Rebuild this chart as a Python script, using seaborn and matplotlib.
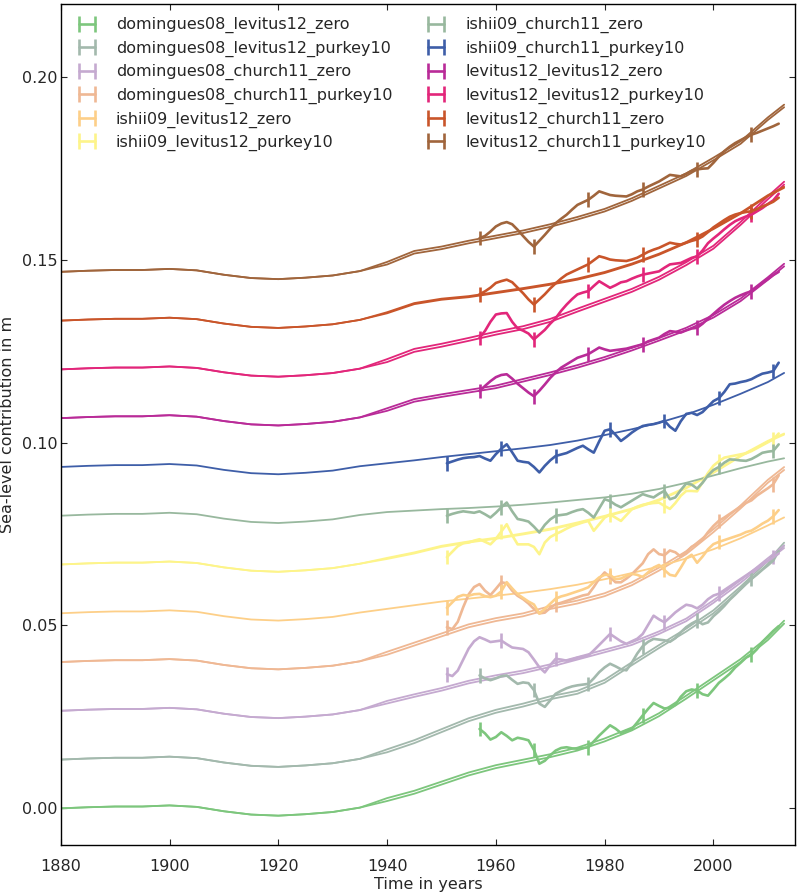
import numpy as np
import pandas as pd
import matplotlib
matplotlib.use("Agg")
import matplotlib.pyplot as plt
import seaborn as sns

sns.set_style("ticks")
plt.rcParams.update({
    'font.family': ['DejaVu Sans'],
    'font.size': 11,
    'xtick.direction': 'in',
    'ytick.direction': 'in',
    'xtick.top': True,
    'ytick.right': True,
    'xtick.major.size': 4,
    'ytick.major.size': 4,
    'xtick.major.pad': 10,
    'ytick.major.pad': 2.5,
    'axes.edgecolor': 'black',
    'axes.linewidth': 1.0,
})

# --- data (values relative to each series' vertical offset) ---
names = [
    'domingues08_levitus12_zero', 'domingues08_levitus12_purkey10',
    'domingues08_church11_zero', 'domingues08_church11_purkey10',
    'ishii09_levitus12_zero', 'ishii09_levitus12_purkey10',
    'ishii09_church11_zero', 'ishii09_church11_purkey10',
    'levitus12_levitus12_zero', 'levitus12_levitus12_purkey10',
    'levitus12_church11_zero', 'levitus12_church11_purkey10',
]
colors = ['#7dc67d', '#a3b9ad', '#c5aad0', '#efb894', '#fdcf88', '#fdf48a',
          '#98b89e', '#3e5ea8', '#b92b98', '#e2267a', '#c9552a', '#a0653c']
offsets = [0.0, 0.01333, 0.02667, 0.04, 0.05333, 0.06667,
           0.08, 0.09333, 0.10667, 0.12, 0.13333, 0.14667]
# spacing between the two model lines of a series (0 = single line)
model_spread = [0.0008, 0.0008, 0.0007, 0.0008, 0.0, 0.0003,
                0.0, 0.0, 0.0007, 0.0008, 0.0003, 0.0007]

early_years = [1880, 1885, 1890, 1895, 1900, 1905, 1910, 1915, 1920, 1925, 1930, 1935]
early_model = [0.0, 0.0003, 0.0005, 0.0005, 0.0008, 0.0004, -0.0008, -0.0017,
               -0.0020, -0.0016, -0.0010, 0.0002]

late_years = [1940, 1945, 1950, 1955, 1960, 1965, 1970, 1975, 1980, 1985, 1990, 1995, 2000, 2005, 2010, 2013]
late_model = [
    [0.0020, 0.0040, 0.0065, 0.0090, 0.0110, 0.0125, 0.0140, 0.0158, 0.0183, 0.0213, 0.0252, 0.0300, 0.0350, 0.0400, 0.0460, 0.0505],
    [0.0020, 0.0045, 0.0075, 0.0105, 0.0128, 0.0145, 0.0165, 0.0180, 0.0210, 0.0258, 0.0305, 0.0350, 0.0400, 0.0465, 0.0535, 0.0585],
    [0.0020, 0.0038, 0.0055, 0.0075, 0.0090, 0.0103, 0.0120, 0.0140, 0.0160, 0.0180, 0.0210, 0.0245, 0.0295, 0.0350, 0.0410, 0.0445],
    [0.0020, 0.0045, 0.0070, 0.0095, 0.0112, 0.0125, 0.0145, 0.0160, 0.0180, 0.0210, 0.0250, 0.0295, 0.0355, 0.0420, 0.0490, 0.0525],
    [0.0012, 0.0022, 0.0032, 0.0040, 0.0048, 0.0056, 0.0066, 0.0078, 0.0093, 0.0110, 0.0128, 0.0150, 0.0175, 0.0205, 0.0240, 0.0262],
    [0.0015, 0.0030, 0.0048, 0.0060, 0.0070, 0.0082, 0.0095, 0.0112, 0.0130, 0.0150, 0.0175, 0.0208, 0.0250, 0.0295, 0.0335, 0.0355],
    [0.0010, 0.0014, 0.0018, 0.0021, 0.0025, 0.0030, 0.0036, 0.0043, 0.0050, 0.0060, 0.0073, 0.0090, 0.0110, 0.0130, 0.0148, 0.0157],
    [0.0010, 0.0018, 0.0027, 0.0035, 0.0043, 0.0051, 0.0060, 0.0072, 0.0087, 0.0103, 0.0121, 0.0143, 0.0170, 0.0200, 0.0232, 0.0257],
    [0.0020, 0.0045, 0.0058, 0.0070, 0.0082, 0.0100, 0.0118, 0.0138, 0.0160, 0.0185, 0.0212, 0.0240, 0.0275, 0.0320, 0.0378, 0.0415],
    [0.0020, 0.0048, 0.0062, 0.0078, 0.0095, 0.0110, 0.0130, 0.0158, 0.0185, 0.0212, 0.0245, 0.0285, 0.0330, 0.0395, 0.0465, 0.0505],
    [0.0020, 0.0045, 0.0057, 0.0064, 0.0075, 0.0086, 0.0098, 0.0112, 0.0130, 0.0153, 0.0180, 0.0212, 0.0250, 0.0292, 0.0340, 0.0363],
    [0.0020, 0.0050, 0.0062, 0.0078, 0.0092, 0.0106, 0.0123, 0.0143, 0.0165, 0.0194, 0.0228, 0.0262, 0.0305, 0.0350, 0.0415, 0.0450],
]

obs_start = [1957, 1957, 1951, 1951, 1951, 1951, 1951, 1951, 1957, 1957, 1957, 1957]
obs_err = [0.002] * 12
obs = [
    # domingues08_levitus12_zero (1957-2012)
    [0.0217, 0.0205, 0.0188, 0.0195, 0.0208, 0.0198, 0.0186, 0.0193, 0.0190, 0.0186,
     0.0160, 0.0122, 0.0130, 0.0145, 0.0158, 0.0165, 0.0167, 0.0164, 0.0163, 0.0165,
     0.0167, 0.0183, 0.0199, 0.0213, 0.0227, 0.0218, 0.0206, 0.0212, 0.0217, 0.0235,
     0.0254, 0.0272, 0.0288, 0.0280, 0.0273, 0.0275, 0.0283, 0.0305, 0.0320, 0.0325,
     0.0322, 0.0312, 0.0308, 0.0325, 0.0343, 0.0355, 0.0368, 0.0385, 0.0398, 0.0412,
     0.0420, 0.0435, 0.0455, 0.0470, 0.0485, 0.0498],
    # domingues08_levitus12_purkey10 (1957-2012)
    [0.0230, 0.0222, 0.0217, 0.0222, 0.0228, 0.0230, 0.0218, 0.0207, 0.0211, 0.0209,
     0.0190, 0.0153, 0.0144, 0.0162, 0.0180, 0.0188, 0.0195, 0.0200, 0.0203, 0.0205,
     0.0207, 0.0222, 0.0239, 0.0252, 0.0262, 0.0255, 0.0247, 0.0244, 0.0265, 0.0290,
     0.0310, 0.0322, 0.0330, 0.0328, 0.0326, 0.0322, 0.0332, 0.0348, 0.0362, 0.0372,
     0.0380, 0.0370, 0.0375, 0.0392, 0.0405, 0.0420, 0.0437, 0.0451, 0.0466, 0.0481,
     0.0494, 0.0506, 0.0519, 0.0531, 0.0544, 0.0570],
    # domingues08_church11_zero (1951-2012)
    [0.0100, 0.0095, 0.0110, 0.0140, 0.0170, 0.0190, 0.0201, 0.0195, 0.0188, 0.0190,
     0.0192, 0.0182, 0.0173, 0.0171, 0.0169, 0.0160, 0.0140, 0.0119, 0.0105, 0.0125,
     0.0142, 0.0140, 0.0137, 0.0140, 0.0145, 0.0148, 0.0151, 0.0165, 0.0180, 0.0195,
     0.0210, 0.0200, 0.0190, 0.0183, 0.0190, 0.0197, 0.0210, 0.0235, 0.0260, 0.0250,
     0.0242, 0.0255, 0.0269, 0.0280, 0.0290, 0.0287, 0.0280, 0.0290, 0.0305, 0.0315,
     0.0320, 0.0330, 0.0340, 0.0350, 0.0360, 0.0370, 0.0380, 0.0390, 0.0400, 0.0410,
     0.0420, 0.0430],
    # domingues08_church11_purkey10 (1951-2012)
    [0.0095, 0.0090, 0.0110, 0.0150, 0.0185, 0.0205, 0.0213, 0.0195, 0.0183, 0.0200,
     0.0218, 0.0215, 0.0195, 0.0181, 0.0172, 0.0160, 0.0145, 0.0133, 0.0135, 0.0148,
     0.0158, 0.0162, 0.0167, 0.0172, 0.0177, 0.0182, 0.0185, 0.0205, 0.0228, 0.0245,
     0.0232, 0.0218, 0.0218, 0.0228, 0.0240, 0.0255, 0.0270, 0.0295, 0.0308, 0.0295,
     0.0292, 0.0305, 0.0300, 0.0288, 0.0300, 0.0315, 0.0323, 0.0335, 0.0355, 0.0372,
     0.0386, 0.0395, 0.0405, 0.0415, 0.0425, 0.0435, 0.0442, 0.0455, 0.0465, 0.0475,
     0.0486, 0.0510],
    # ishii09_levitus12_zero (1951-2012)
    [0.0015, 0.0030, 0.0045, 0.0050, 0.0048, 0.0052, 0.0053, 0.0047, 0.0044, 0.0048,
     0.0060, 0.0085, 0.0068, 0.0052, 0.0042, 0.0032, 0.0024, -0.0001, 0.0012, 0.0026,
     0.0040, 0.0046, 0.0050, 0.0055, 0.0060, 0.0065, 0.0071, 0.0085, 0.0098, 0.0105,
     0.0105, 0.0093, 0.0095, 0.0102, 0.0108, 0.0105, 0.0099, 0.0112, 0.0125, 0.0132,
     0.0118, 0.0105, 0.0102, 0.0125, 0.0150, 0.0160, 0.0138, 0.0155, 0.0175, 0.0189,
     0.0195, 0.0200, 0.0205, 0.0210, 0.0215, 0.0222, 0.0226, 0.0235, 0.0245, 0.0253,
     0.0265, 0.0282],
    # ishii09_levitus12_purkey10 (1951-2012)
    [0.0020, 0.0035, 0.0050, 0.0058, 0.0060, 0.0065, 0.0069, 0.0062, 0.0055, 0.0070,
     0.0090, 0.0110, 0.0080, 0.0055, 0.0055, 0.0055, 0.0048, 0.0028, 0.0060, 0.0075,
     0.0083, 0.0090, 0.0098, 0.0105, 0.0110, 0.0115, 0.0119, 0.0092, 0.0110, 0.0128,
     0.0137, 0.0128, 0.0119, 0.0135, 0.0151, 0.0158, 0.0163, 0.0166, 0.0168, 0.0169,
     0.0160, 0.0152, 0.0168, 0.0188, 0.0201, 0.0201, 0.0200, 0.0225, 0.0250, 0.0270,
     0.0282, 0.0292, 0.0295, 0.0298, 0.0301, 0.0304, 0.0310, 0.0318, 0.0326, 0.0334,
     0.0342, 0.0358],
    # ishii09_church11_zero (1951-2012)
    [0.0000, 0.0005, 0.0009, 0.0012, 0.0010, 0.0008, 0.0012, 0.0004, -0.0005, 0.0008,
     0.0023, 0.0036, 0.0012, -0.0009, -0.0012, -0.0016, -0.0030, -0.0046, -0.0025, -0.0010,
     0.0000, 0.0002, 0.0004, 0.0010, 0.0015, 0.0018, 0.0008, -0.0005, 0.0020, 0.0045,
     0.0040, 0.0030, 0.0023, 0.0032, 0.0041, 0.0050, 0.0059, 0.0054, 0.0050, 0.0060,
     0.0068, 0.0045, 0.0050, 0.0070, 0.0088, 0.0085, 0.0074, 0.0090, 0.0110, 0.0125,
     0.0133, 0.0145, 0.0154, 0.0153, 0.0151, 0.0150, 0.0155, 0.0163, 0.0172, 0.0175,
     0.0177, 0.0195],
    # ishii09_church11_purkey10 (1951-2012)
    [0.0010, 0.0015, 0.0020, 0.0024, 0.0026, 0.0027, 0.0030, 0.0023, 0.0017, 0.0035,
     0.0050, 0.0062, 0.0040, 0.0017, 0.0014, 0.0012, 0.0000, -0.0015, 0.0003, 0.0018,
     0.0030, 0.0034, 0.0038, 0.0045, 0.0052, 0.0058, 0.0048, 0.0039, 0.0070, 0.0099,
     0.0103, 0.0088, 0.0071, 0.0082, 0.0094, 0.0104, 0.0112, 0.0115, 0.0117, 0.0121,
     0.0126, 0.0110, 0.0099, 0.0125, 0.0145, 0.0148, 0.0142, 0.0150, 0.0165, 0.0180,
     0.0188, 0.0205, 0.0226, 0.0228, 0.0232, 0.0235, 0.0240, 0.0248, 0.0255, 0.0258,
     0.0262, 0.0285],
    # levitus12_levitus12_zero (1957-2012)
    [0.0074, 0.0088, 0.0101, 0.0112, 0.0118, 0.0120, 0.0108, 0.0094, 0.0082, 0.0070,
     0.0060, 0.0075, 0.0092, 0.0110, 0.0125, 0.0138, 0.0147, 0.0156, 0.0165, 0.0170,
     0.0175, 0.0184, 0.0193, 0.0188, 0.0184, 0.0186, 0.0188, 0.0190, 0.0194, 0.0198,
     0.0202, 0.0210, 0.0215, 0.0220, 0.0230, 0.0238, 0.0236, 0.0234, 0.0240, 0.0245,
     0.0247, 0.0258, 0.0272, 0.0285, 0.0298, 0.0310, 0.0320, 0.0329, 0.0336, 0.0342,
     0.0347, 0.0358, 0.0370, 0.0380, 0.0391, 0.0400],
    # levitus12_levitus12_purkey10 (1957-2012)
    [0.0086, 0.0105, 0.0130, 0.0150, 0.0153, 0.0154, 0.0130, 0.0112, 0.0106, 0.0098,
     0.0082, 0.0095, 0.0108, 0.0125, 0.0140, 0.0160, 0.0177, 0.0192, 0.0205, 0.0210,
     0.0214, 0.0228, 0.0241, 0.0232, 0.0223, 0.0230, 0.0238, 0.0241, 0.0248, 0.0254,
     0.0259, 0.0262, 0.0265, 0.0268, 0.0278, 0.0287, 0.0289, 0.0291, 0.0298, 0.0305,
     0.0309, 0.0325, 0.0345, 0.0358, 0.0370, 0.0383, 0.0395, 0.0405, 0.0412, 0.0418,
     0.0423, 0.0432, 0.0441, 0.0452, 0.0462, 0.0480],
    # levitus12_church11_zero (1957-2012)
    [0.0072, 0.0080, 0.0090, 0.0103, 0.0108, 0.0112, 0.0105, 0.0090, 0.0075, 0.0058,
     0.0044, 0.0058, 0.0072, 0.0088, 0.0102, 0.0115, 0.0126, 0.0133, 0.0140, 0.0147,
     0.0154, 0.0165, 0.0176, 0.0172, 0.0167, 0.0165, 0.0164, 0.0163, 0.0167, 0.0172,
     0.0180, 0.0188, 0.0194, 0.0199, 0.0206, 0.0213, 0.0210, 0.0208, 0.0213, 0.0218,
     0.0222, 0.0230, 0.0242, 0.0255, 0.0265, 0.0275, 0.0284, 0.0290, 0.0294, 0.0297,
     0.0299, 0.0305, 0.0312, 0.0318, 0.0325, 0.0336],
    # levitus12_church11_purkey10 (1957-2012)
    [0.0092, 0.0098, 0.0110, 0.0124, 0.0132, 0.0136, 0.0130, 0.0115, 0.0098, 0.0082,
     0.0069, 0.0085, 0.0101, 0.0118, 0.0133, 0.0145, 0.0156, 0.0170, 0.0183, 0.0190,
     0.0197, 0.0208, 0.0220, 0.0215, 0.0210, 0.0208, 0.0207, 0.0206, 0.0212, 0.0220,
     0.0225, 0.0233, 0.0240, 0.0247, 0.0256, 0.0265, 0.0263, 0.0261, 0.0268, 0.0276,
     0.0280, 0.0282, 0.0283, 0.0298, 0.0315, 0.0330, 0.0342, 0.0352, 0.0360, 0.0368,
     0.0375, 0.0380, 0.0386, 0.0392, 0.0398, 0.0405],
]

# --- figure ---
fig, ax = plt.subplots(figsize=(7.99, 8.96), dpi=100)
fig.subplots_adjust(left=0.076, right=0.995, bottom=0.057, top=0.996)

model_years = early_years + late_years
for i in range(len(names)):
    line_a = np.array(early_model + late_model[i]) + offsets[i]
    sns.lineplot(x=model_years, y=line_a, color=colors[i], lw=1.3, ax=ax,
                 legend=False, zorder=2)
    if model_spread[i] > 0:
        line_b = np.array(early_model + [v + model_spread[i] for v in late_model[i]]) + offsets[i]
        sns.lineplot(x=model_years, y=line_b, color=colors[i], lw=1.3, ax=ax,
                     legend=False, zorder=2)

for i in range(len(names)):
    yrs = np.arange(obs_start[i], obs_start[i] + len(obs[i]))
    vals = np.array(obs[i]) + offsets[i]
    ax.errorbar(yrs, vals, yerr=obs_err[i], errorevery=10, color=colors[i],
                lw=1.9, elinewidth=1.9, capsize=0, label=names[i], zorder=3)

ax.set_xlim(1880, 2015)
ax.set_ylim(-0.01, 0.22)
ax.set_xticks([1880, 1900, 1920, 1940, 1960, 1980, 2000])
ax.set_yticks([0.0, 0.05, 0.10, 0.15, 0.20])
ax.set_yticklabels(['0.00', '0.05', '0.10', '0.15', '0.20'])
ax.tick_params(labelsize=11.5)
ax.set_xlabel('Time in years', fontsize=11.5, labelpad=2)
ax.set_ylabel('Sea-level contribution in m', fontsize=11.5, labelpad=5)
for s in ax.spines.values():
    s.set_visible(True)

ax.legend(loc='upper left', ncol=2, frameon=False, numpoints=2, fontsize=11.5,
          handlelength=1.6, handletextpad=1.0, columnspacing=1.95,
          labelspacing=0.46, borderaxespad=0.45)

plt.savefig('out.png', dpi=100)
